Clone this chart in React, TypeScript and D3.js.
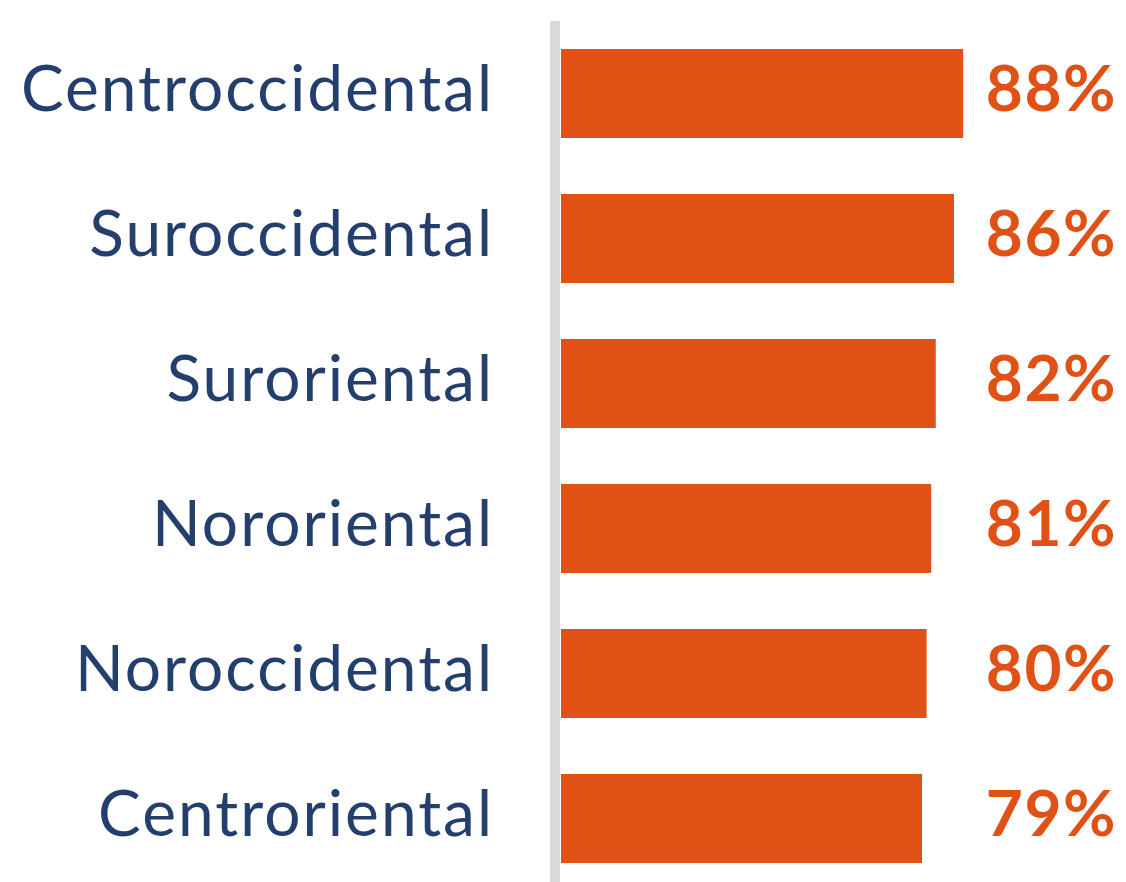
import React from "react";
import * as d3 from "d3";

// Regions and their shares, in display order
const regions = [
  "Centroccidental",
  "Suroccidental",
  "Suroriental",
  "Nororiental",
  "Noroccidental",
  "Centroriental",
];
const shares = [88, 86, 82, 81, 80, 79];

const WIDTH = 1126;
const HEIGHT = 882;
const ORANGE = "#DF5115";
const NAVY = "#243F6E";
const AXIS_GREY = "#D9D9D9";
const FONT = "Lato, 'Open Sans', sans-serif";

export default function App() {
  const rows = regions.map((name, i) => ({ name, value: shares[i] }));

  const x = d3.scaleLinear().domain([0, 100]).range([561, 561 + 457]);

  // bars 89px tall on a 145px step, first one starting at y=49
  const step = 145;
  const band = 89;
  const y = d3
    .scaleBand<string>()
    .domain(regions)
    .range([49, 49 + step * (regions.length - 1) + band])
    .paddingInner((step - band) / step)
    .paddingOuter(0);

  return (
    <svg
      width={WIDTH}
      height={HEIGHT}
      style={{ position: "absolute", left: 0, top: 0, background: "#fff" }}
    >
      <rect x={550} y={21} width={10} height={HEIGHT - 21} fill={AXIS_GREY} />
      {rows.map((d) => {
        const top = y(d.name) as number;
        const h = y.bandwidth();
        const cy = top + h / 2;
        return (
          <g key={d.name}>
            <rect x={x(0)} y={top} width={x(d.value) - x(0)} height={h} fill={ORANGE} />
            <text
              x={494}
              y={cy + 17}
              textAnchor="end"
              fontFamily={FONT}
              fontSize={64}
              letterSpacing={2}
              fill={NAVY}
            >
              {d.name}
            </text>
            <text
              x={1117}
              y={cy + 17}
              textAnchor="end"
              fontFamily={FONT}
              fontWeight={700}
              fontSize={64}
              letterSpacing={1.5}
              fill={ORANGE}
            >
              {d.value}%
            </text>
          </g>
        );
      })}
    </svg>
  );
}
